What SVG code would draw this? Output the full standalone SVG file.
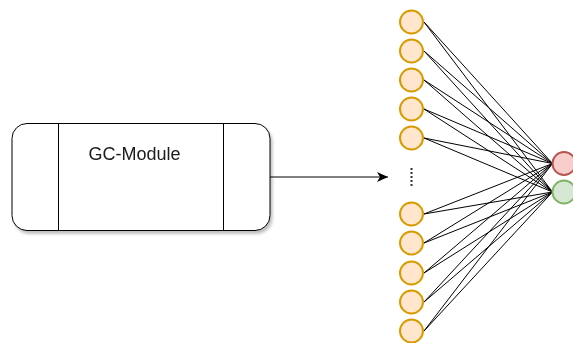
<svg xmlns="http://www.w3.org/2000/svg" width="573" height="343" viewBox="0 0 573 343">
<defs>
<style>
.in{fill:#ffe6cc;stroke:#d79b00;stroke-width:2}
.e{stroke:#000;stroke-width:1;fill:none}
.lbl{font-family:"Liberation Sans",Arial,sans-serif;font-size:18px;fill:#1a1a1a}
</style>
<marker id="ah" markerWidth="12" markerHeight="10" refX="11" refY="5" orient="auto" markerUnits="userSpaceOnUse">
<path d="M0,0 L11,5 L0,10 L3,5 Z" fill="#000"/>
</marker>
<filter id="sh" x="-10%" y="-10%" width="130%" height="130%">
<feGaussianBlur in="SourceAlpha" stdDeviation="1.5"/>
<feOffset dx="2" dy="3"/>
<feComponentTransfer><feFuncA type="linear" slope="0.25"/></feComponentTransfer>
<feMerge><feMergeNode/><feMergeNode in="SourceGraphic"/></feMerge>
</filter>
</defs>
<rect width="573" height="343" fill="#fff"/>
<g id="gc-module" filter="url(#sh)">
<rect x="12" y="123.5" width="258" height="107" rx="15" fill="#fff" stroke="#000" stroke-width="1"/>
<line x1="58.5" y1="123.5" x2="58.5" y2="230.5" stroke="#000"/>
<line x1="223.5" y1="123.5" x2="223.5" y2="230.5" stroke="#000"/>
<text class="lbl" x="134.5" y="160" text-anchor="middle">GC-Module</text>
</g>
<g id="connectors">
<line class="e" x1="270" y1="177" x2="388" y2="177" marker-end="url(#ah)"/>
<g class="e">
<path d="M424,22 L552.5,163.5 M424,22 L552.5,192"/>
<path d="M424,51 L552.5,163.5 M424,51 L552.5,192"/>
<path d="M424,80 L552.5,163.5 M424,80 L552.5,192"/>
<path d="M424,109 L552.5,163.5 M424,109 L552.5,192"/>
<path d="M424,138 L552.5,163.5 M424,138 L552.5,192"/>
<path d="M424,214 L552.5,163.5 M424,214 L552.5,192"/>
<path d="M424,243 L552.5,163.5 M424,243 L552.5,192"/>
<path d="M424,273 L552.5,163.5 M424,273 L552.5,192"/>
<path d="M424,302 L552.5,163.5 M424,302 L552.5,192"/>
<path d="M424,331 L552.5,163.5 M424,331 L552.5,192"/>
</g>
</g>
<g id="inputs">
<circle id="in1" class="in" cx="411.5" cy="22" r="11.5"/>
<circle id="in2" class="in" cx="411.5" cy="51" r="11.5"/>
<circle id="in3" class="in" cx="411.5" cy="80" r="11.5"/>
<circle id="in4" class="in" cx="411.5" cy="109" r="11.5"/>
<circle id="in5" class="in" cx="411.5" cy="138" r="11.5"/>
<circle id="in6" class="in" cx="411.5" cy="214" r="11.5"/>
<circle id="in7" class="in" cx="411.5" cy="243" r="11.5"/>
<circle id="in8" class="in" cx="411.5" cy="273" r="11.5"/>
<circle id="in9" class="in" cx="411.5" cy="302" r="11.5"/>
<circle id="in10" class="in" cx="411.5" cy="331" r="11.5"/>
</g>
<g id="ellipsis">
<line x1="411.5" y1="168" x2="411.5" y2="186" stroke="#333" stroke-width="2" stroke-dasharray="2,2"/>
</g>
<g id="out-red"><circle cx="564" cy="163.5" r="11.5" fill="#f8cecc" stroke="#b85450" stroke-width="2"/></g>
<g id="out-green"><circle cx="564" cy="192" r="11.5" fill="#d5e8d4" stroke="#82b366" stroke-width="2"/></g>
</svg>
